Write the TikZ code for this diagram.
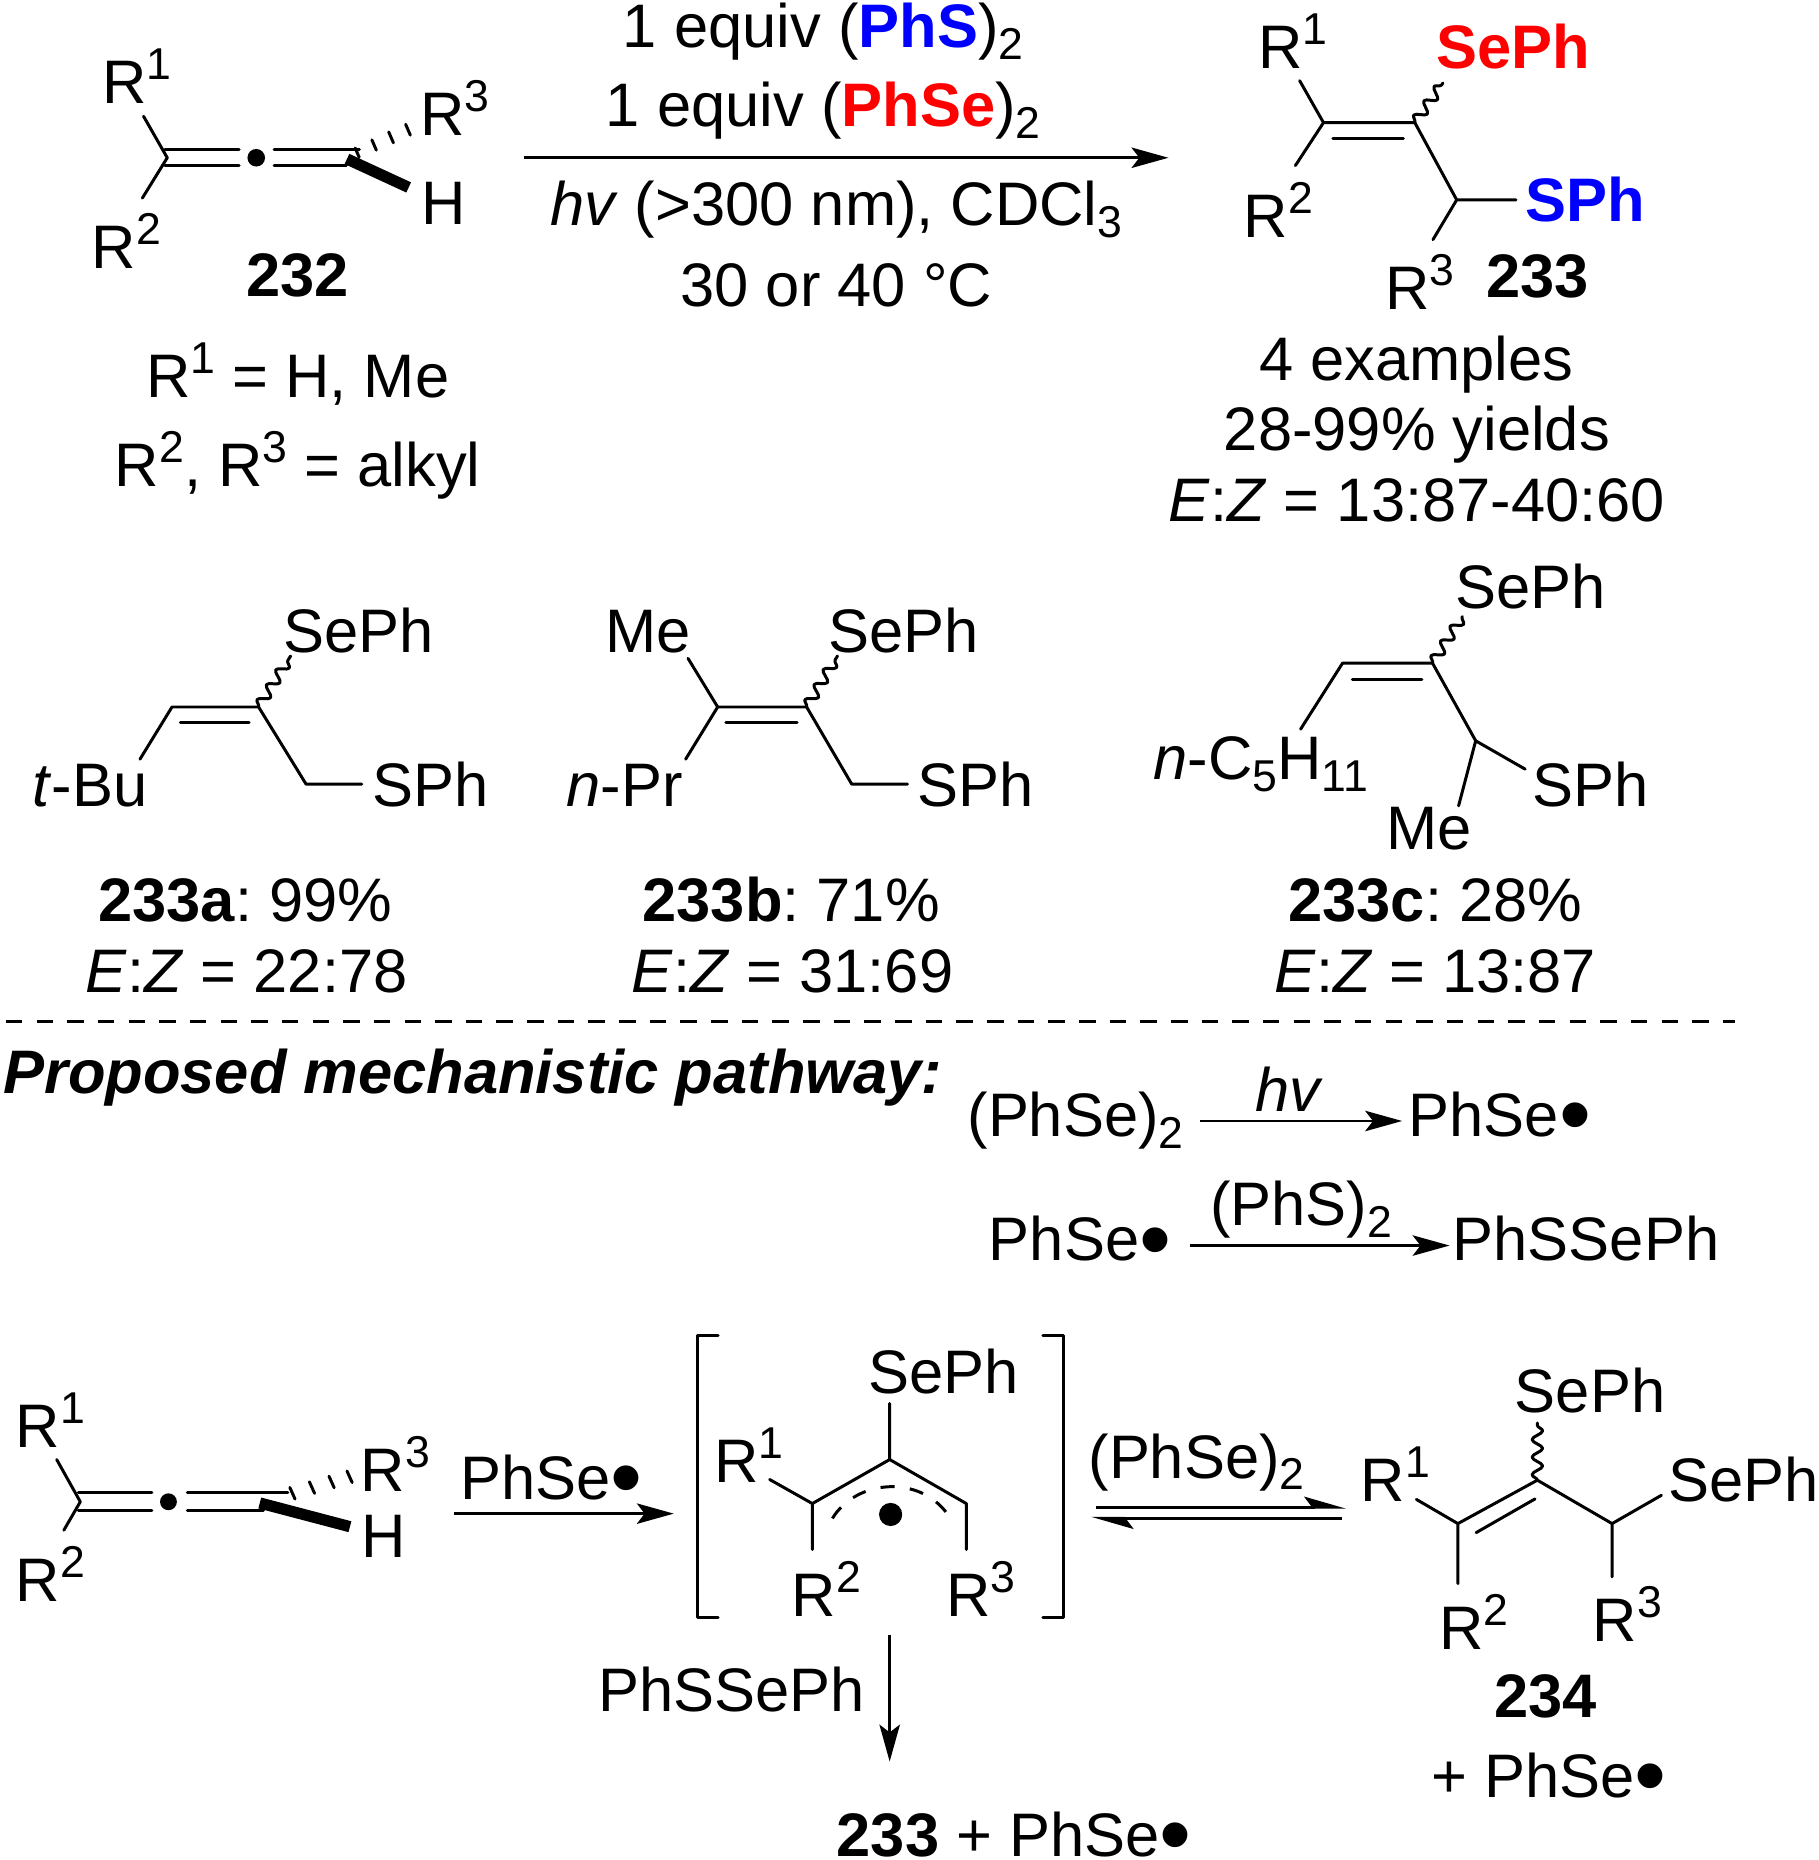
\documentclass[tikz,border=0pt]{standalone}
\usepackage{fontspec}
\setmainfont{Liberation Sans}
\usetikzlibrary{arrows.meta,calc,decorations.pathmorphing}
\frenchspacing
\newcommand{\supsc}[1]{\raisebox{0.39em}{\fontsize{12.7}{13}\selectfont #1}}
\newcommand{\subsc}[1]{\raisebox{-0.19em}{\fontsize{12.7}{13}\selectfont #1}}
\newcommand{\rad}{\raisebox{-2.7pt}{\fontsize{26}{26}\selectfont\textbullet}}
\tikzset{
    x=0.011866cm, y=-0.011866cm,
    every node/.style={inner sep=0pt, font=\fontsize{17.5}{20}\selectfont},
    lbl/.style={anchor=base west, xshift=-1pt},
    lblc/.style={anchor=base},
    bond/.style={line width=0.85pt, line cap=round, line join=round},
    boldbond/.style={line width=3.2pt},
    wavy/.style={bond, decorate, decoration={snake, amplitude=1.5pt, segment length=5pt}},
    rxn/.style={line width=0.85pt, -{Stealth[length=10.5pt, width=5.8pt, inset=2.2pt]}},
    halfrxn/.style={line width=0.85pt, -{Stealth[harpoon, length=10.5pt, width=6pt, inset=2.2pt]}},
}
\begin{document}
\begin{tikzpicture}
    \useasboundingbox (0,0) rectangle (1533,1568);

    % allene 232
    \coordinate (a1) at (141,133);
    \coordinate (a3) at (296,131);
    \node[lbl] (ar1) at (88.7,87) {R\supsc{1}};
    \node[lbl] (ar2) at (79.7,226) {R\supsc{2}};
    \node[lbl] (ar3) at (356.5,114) {R\supsc{3}};
    \node[lbl] (ah) at (357.4,189.6) {H};
    \node[circle, fill, minimum size=5pt] (adot) at (216,133) {};
    \coordinate (ae1) at (121,98);
    \coordinate (ae2) at (120,167);
    \coordinate (ae3) at (347,108);
    \coordinate (aw1) at (292.5,134);
    \coordinate (aw2) at (344.5,158);
    \draw[bond] (ae1) -- (a1) -- (ae2);
    \draw[bond] (139,126.4) -- (201.6,126.4) (139,139.6) -- (201.6,139.6);
    \draw[bond] (231,126.4) -- (303,126.4) (231,139.6) -- (292,139.6);
    \draw[boldbond] (aw1) -- (aw2);
    \foreach \t/\h in {0.1/0.85, 0.38/0.95, 0.66/1, 0.94/1}
        \draw[bond] ($(a3)!\t!(ae3)+(-2*\h,-4.6*\h)$) -- ++(4*\h,9.2*\h);
    \node[lblc] (a232) at (250.6,250) {\textbf{232}};
    \node[lblc] (ar1txt) at (251,335) {R\supsc{1} = H, Me};
    \node[lblc] (ar2txt) at (251,410) {R\supsc{2}, R\supsc{3} = alkyl};

    % reaction arrow and conditions
    \coordinate (s1) at (442,133);
    \coordinate (s2) at (985,133);
    \draw[rxn] (s1) -- (s2);
    \node[lblc] (c1) at (694,40) {1 equiv (\textcolor{blue}{\textbf{PhS}})\subsc{2}};
    \node[lblc] (c2) at (694,107) {1 equiv (\textcolor{red}{\textbf{PhSe}})\subsc{2}};
    \node[lblc] (c3) at (705,190) {\textit{hv} (>300 nm), CDCl\subsc{3}};
    \node[lblc] (c4) at (705,258) {30 or 40 °C};

    % product 233
    \coordinate (b1) at (1115.7,103.4);
    \coordinate (b2) at (1192.7,103.4);
    \coordinate (b4) at (1228,168.5);
    \coordinate (be1) at (1095.6,68);
    \coordinate (be2) at (1092,139.6);
    \coordinate (be3) at (1208,202);
    \coordinate (be4) at (1278,168.5);
    \coordinate (be5) at (1216.4,70);
    \node[lbl] (br1) at (1063,58) {R\supsc{1}};
    \node[lbl] (br2) at (1051,200) {R\supsc{2}};
    \node[lbl] (br3) at (1170,261) {R\supsc{3}};
    \node[lbl, text=red] (bse) at (1213.5,58) {\textbf{SePh}};
    \node[lbl, text=blue] (bs) at (1288,187) {\textbf{SPh}};
    \draw[bond] (be1) -- (b1) -- (b2) -- (b4) -- (be4) (b1) -- (be2) (b4) -- (be3);
    \draw[bond] (1123.6,117) -- (1183,117);
    \draw[wavy] (b2) -- (be5);
    \node[lblc] (b233) at (1296,251) {\textbf{233}};
    \node[lblc] (bt1) at (1194,321) {4 examples};
    \node[lblc] (bt2) at (1194.5,380) {28-99\% yields};
    \node[lblc] (bt3) at (1194.5,440) {\textit{E}:\textit{Z} = 13:87-40:60};

    % 233a
    \coordinate (d1) at (145,596);
    \coordinate (d2) at (218,596);
    \coordinate (d3) at (258,661);
    \coordinate (de1) at (118,640);
    \coordinate (de2) at (305,661);
    \coordinate (de3) at (245,553);
    \node[lbl] (dse) at (241,550) {SePh};
    \node[lbl] (dbu) at (30,680) {\textit{t}-Bu};
    \node[lbl] (ds) at (316,680) {SPh};
    \draw[bond] (de1) -- (d1) -- (d2) -- (d3) -- (de2);
    \draw[bond] (152,609) -- (210,609);
    \draw[wavy] (d2) -- (de3);
    \node[lblc] (dy) at (207,777) {\textbf{233a}: 99\%};
    \node[lblc] (dz) at (208,837) {\textit{E}:\textit{Z} = 22:78};

    % 233b
    \coordinate (e1) at (605,596);
    \coordinate (e2) at (680,596);
    \coordinate (e3) at (718,661);
    \coordinate (ee1) at (578,640);
    \coordinate (ee2) at (765,661);
    \coordinate (ee3) at (706,553);
    \coordinate (ee4) at (580,555);
    \node[lbl] (eme) at (513,550) {Me};
    \node[lbl] (ese) at (701,550) {SePh};
    \node[lbl] (epr) at (480,680) {\textit{n}-Pr};
    \node[lbl] (es) at (776,680) {SPh};
    \draw[bond] (ee4) -- (e1) -- (ee1) (e1) -- (e2) -- (e3) -- (ee2);
    \draw[bond] (612,609) -- (672,609);
    \draw[wavy] (e2) -- (ee3);
    \node[lblc] (ey) at (667,777) {\textbf{233b}: 71\%};
    \node[lblc] (ez) at (668,837) {\textit{E}:\textit{Z} = 31:69};

    % 233c
    \coordinate (f1) at (1131.8,559);
    \coordinate (f2) at (1207.6,559);
    \coordinate (f3) at (1244,624.5);
    \coordinate (fe1) at (1096.4,614.7);
    \coordinate (fe2) at (1285.7,648.4);
    \coordinate (fe3) at (1229.6,679.3);
    \coordinate (fe4) at (1232.8,519.8);
    \node[lbl] (fse) at (1229.6,513.3) {SePh};
    \node[lbl] (fc) at (974.7,657.4) {\textit{n}-C\subsc{5}H\subsc{11}};
    \node[lbl] (fs) at (1294,680) {SPh};
    \node[lbl] (fme) at (1171,715.8) {Me};
    \draw[bond] (fe1) -- (f1) -- (f2) -- (f3) -- (fe2) (f3) -- (fe3);
    \draw[bond] (1140,573) -- (1198.6,573);
    \draw[wavy] (f2) -- (fe4);
    \node[lblc] (fy) at (1210,777) {\textbf{233c}: 28\%};
    \node[lblc] (fz) at (1210,837) {\textit{E}:\textit{Z} = 13:87};

    % separator
    \coordinate (g1) at (5,861);
    \coordinate (g2) at (1463,861);
    \draw[line width=0.9pt, dash pattern=on 4.7pt off 4.03pt] (g1) -- (g2);
    \node[lbl] (gt) at (5,922) {\textbf{\textit{Proposed mechanistic pathway:}}};

    % initiation
    \node[lbl] (h1) at (818,958) {(PhSe)\subsc{2}};
    \node[lbl] (h2) at (1190,958) {PhSe\rad};
    \coordinate (hs) at (1012,945);
    \coordinate (ht) at (1182,945);
    \draw[rxn] (hs) -- (ht);
    \node[lblc] (hl) at (1087,937) {\textit{hv}};
    \node[lbl] (i1) at (836,1063) {PhSe\rad};
    \node[lbl] (i2) at (1227,1063) {PhSSePh};
    \coordinate (is) at (1003,1050);
    \coordinate (it) at (1222,1050);
    \draw[rxn] (is) -- (it);
    \node[lblc] (il) at (1097,1033) {(PhS)\subsc{2}};

    % allene again
    \coordinate (j1) at (67.7,1266);
    \coordinate (j3) at (232,1263);
    \coordinate (je1) at (47.8,1230.4);
    \coordinate (je2) at (53.8,1290);
    \coordinate (je3) at (298,1244);
    \coordinate (jw1) at (219,1267);
    \coordinate (jw2) at (295,1287);
    \node[lbl] (jr1) at (15.8,1220) {R\supsc{1}};
    \node[lbl] (jr2) at (15.8,1350) {R\supsc{2}};
    \node[lbl] (jr3) at (306.6,1257) {R\supsc{3}};
    \node[lbl] (jh) at (307.4,1312.7) {H};
    \node[circle, fill, minimum size=4.8pt] (jdot) at (142,1266) {};
    \draw[bond] (je1) -- (j1) -- (je2);
    \draw[bond] (66,1258.5) -- (128,1258.5) (66,1273) -- (128,1273);
    \draw[bond] (158,1258.5) -- (242.7,1258.5) (158,1273) -- (222,1273);
    \draw[boldbond] (jw1) -- (jw2);
    \foreach \t in {0.22, 0.47, 0.72, 0.95}
        \draw[bond] ($(j3)!\t!(je3)+(-2.2,-4.9)$) -- ++(4.4,9.8);
    \coordinate (js) at (383,1276);
    \coordinate (jt) at (568,1276);
    \draw[rxn] (js) -- (jt);
    \node[lbl] (jl) at (390.5,1264) {PhSe\rad};

    % radical in brackets
    \draw[bond] (605.3,1126) -- (588.4,1126) -- (588.4,1363.8) -- (605.3,1363.8);
    \draw[bond] (879.2,1126) -- (896.6,1126) -- (896.6,1363.8) -- (879.2,1363.8);
    \coordinate (k1) at (684.8,1267.5);
    \coordinate (k2) at (750,1230.4);
    \coordinate (k3) at (814.6,1267.5);
    \coordinate (ke0) at (750,1183.2);
    \coordinate (ke1) at (648.8,1247.2);
    \coordinate (ke2) at (684.8,1306.2);
    \coordinate (ke3) at (814.6,1306.2);
    \coordinate (kd1) at (701.7,1280);
    \coordinate (kd2) at (799,1276.7);
    \node[lbl] (kse) at (734.5,1174.8) {SePh};
    \node[lbl] (kr1) at (604.7,1250) {R\supsc{1}};
    \node[lbl] (kr2) at (670,1362.4) {R\supsc{2}};
    \node[lbl] (kr3) at (800,1362.4) {R\supsc{3}};
    \node[circle, fill, minimum size=6.6pt] (kdot) at (750.8,1276.7) {};
    \draw[bond] (ke1) -- (k1) -- (k2) -- (k3) -- (ke3) (k1) -- (ke2) (k2) -- (ke0);
    \draw[line width=0.85pt, dash pattern=on 4pt off 4.4pt] (kd1) .. controls (722,1247) and (775,1243) .. (kd2);

    % equilibrium
    \coordinate (m1) at (924,1270.6);
    \coordinate (m2) at (1135,1270.6);
    \coordinate (m3) at (1131,1280);
    \coordinate (m4) at (920,1280);
    \draw[halfrxn] (m1) -- (m2);
    \draw[halfrxn] (m3) -- (m4);
    \node[lbl] (ml) at (920,1246) {(PhSe)\subsc{2}};

    % 234
    \coordinate (n1) at (1229,1284.4);
    \coordinate (n2) at (1296,1247.8);
    \coordinate (n3) at (1359,1284.4);
    \coordinate (ne1) at (1194,1264);
    \coordinate (ne2) at (1229,1335);
    \coordinate (ne3) at (1359,1329.3);
    \coordinate (ne4) at (1400.6,1260.5);
    \coordinate (ne5) at (1296,1199.5);
    \node[lbl] (nse1) at (1279.5,1191) {SePh};
    \node[lbl] (nse2) at (1409,1266) {SePh};
    \node[lbl] (nr1) at (1149.4,1266) {R\supsc{1}};
    \node[lbl] (nr2) at (1215.5,1390.5) {R\supsc{2}};
    \node[lbl] (nr3) at (1345,1384) {R\supsc{3}};
    \draw[bond] (ne1) -- (n1) -- (n2) -- (n3) -- (ne4) (n1) -- (ne2) (n3) -- (ne3);
    \draw[bond] (1244.4,1292) -- (1294,1263.6);
    \draw[wavy] (n2) -- (ne5);
    \node[lblc] (n234) at (1303,1448) {\textbf{234}};
    \node[lblc] (nt) at (1306,1515) {+ PhSe\rad};

    % termination
    \coordinate (p1) at (750,1378);
    \coordinate (p2) at (750,1485);
    \draw[rxn] (p1) -- (p2);
    \node[lbl] (pl) at (507,1443) {PhSSePh};
    \node[lblc] (pt) at (855,1565) {\textbf{233} + PhSe\rad};
\end{tikzpicture}
\end{document}
